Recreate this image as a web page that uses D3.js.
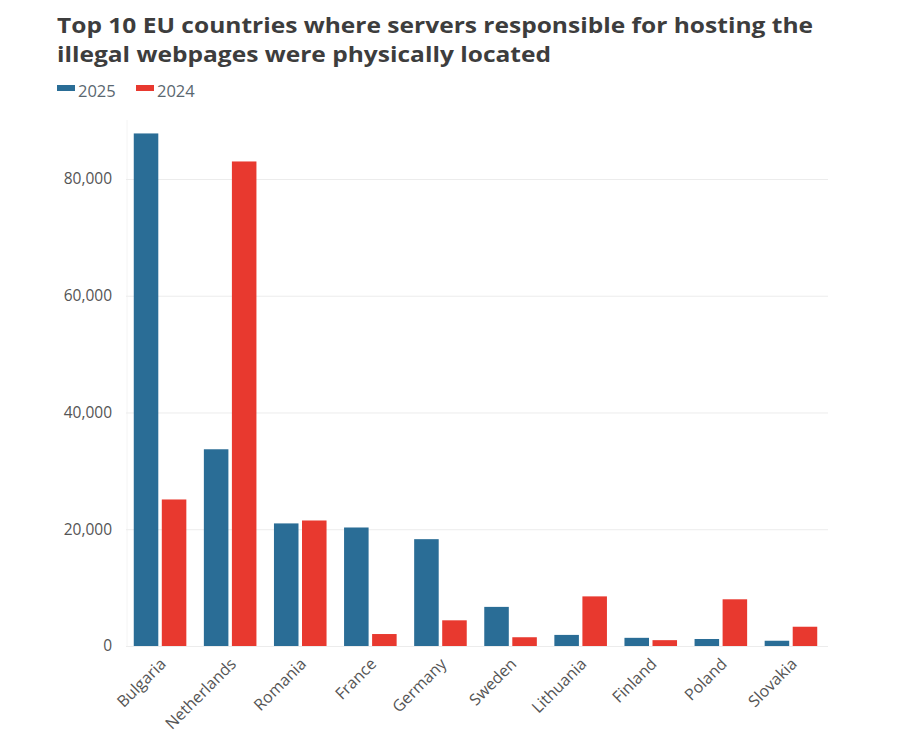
<!DOCTYPE html>
<html>
<head>
<meta charset="utf-8">
<script src="https://cdn.jsdelivr.net/npm/d3@7/dist/d3.min.js"></script>
<style>
  html, body { margin: 0; padding: 0; background: #fff; }
  svg { display: block; }
</style>
</head>
<body>
<svg id="chart" width="900" height="743"></svg>
<script>
const countries = ["Bulgaria","Netherlands","Romania","France","Germany","Sweden","Lithuania","Finland","Poland","Slovakia"];
const seriesNames = ["2025","2024"];
const values2025 = [87800, 33700, 21000, 20300, 18300, 6700, 1900, 1400, 1200, 900];
const values2024 = [25100, 83000, 21500, 2050, 4400, 1500, 8500, 1000, 8000, 3300];
const yTicks = [0, 20000, 40000, 60000, 80000];
const colors = ["#2a6d96", "#e8392f"];
const titleLines = ["Top 10 EU countries where servers responsible for hosting the", "illegal webpages were physically located"];

const svg = d3.select("#chart");
const font = "'Open Sans', 'Noto Sans', sans-serif";

const x0 = d3.scaleBand().domain(countries).range([125, 826]).paddingInner(0.25).paddingOuter(0.125);
const x1 = d3.scaleBand().domain(seriesNames).range([0, x0.bandwidth()]).paddingInner(0.125);
const y = d3.scaleLinear().domain([0, 90000]).range([646, 120.6]);
const color = d3.scaleOrdinal().domain(seriesNames).range(colors);

// title
const titleLen = [756, 494];
svg.append("g").selectAll("text").data(titleLines).join("text")
  .attr("x", 57).attr("y", (d, i) => 32.5 + i * 29.5)
  .attr("font-family", font).attr("font-weight", 700).attr("font-size", 21.5)
  .attr("textLength", (d, i) => titleLen[i]).attr("lengthAdjust", "spacingAndGlyphs")
  .attr("fill", "#3d3d3d").text(d => d);

// legend
const leg = svg.append("g").attr("font-family", font).attr("font-size", 16.5);
const legX = [57, 136];
seriesNames.forEach((s, i) => {
  leg.append("rect").attr("x", legX[i]).attr("y", 85).attr("width", 18).attr("height", 6).attr("fill", color(s));
  leg.append("text").attr("x", legX[i] + 21).attr("y", 96.5).attr("fill", "#5a6770").text(s);
});

// faint left edge
svg.append("line").attr("x1", 127).attr("x2", 127).attr("y1", 120).attr("y2", 646)
  .attr("stroke", "#f4f4f4");

// gridlines + y axis
const yAxis = d3.axisLeft(y).tickValues(yTicks).tickFormat(d3.format(",")).tickSize(-(828 - 126)).tickPadding(14);
const ga = svg.append("g").attr("transform", "translate(126,0)").call(yAxis);
ga.select(".domain").remove();
ga.selectAll(".tick line").attr("stroke", "#ececec");
ga.selectAll(".tick text").attr("font-family", font).attr("font-size", 15.5).attr("fill", "#555");

// bars
const groups = svg.append("g").selectAll("g").data(countries).join("g")
  .attr("transform", d => `translate(${x0(d)},0)`);
groups.selectAll("rect").data((d, i) => [
  {s: "2025", v: values2025[i]},
  {s: "2024", v: values2024[i]}
]).join("rect")
  .attr("x", d => x1(d.s)).attr("width", x1.bandwidth())
  .attr("y", d => y(d.v)).attr("height", d => y(0) - y(d.v))
  .attr("fill", d => color(d.s));

// x axis labels
const xAxis = d3.axisBottom(x0).tickSize(0).tickPadding(0);
const gx = svg.append("g").attr("transform", `translate(0,${y(0)})`).call(xAxis);
gx.select(".domain").remove();
gx.selectAll(".tick text")
  .attr("font-family", font).attr("font-size", 16).attr("fill", "#555")
  .attr("text-anchor", "end").attr("dy", 0)
  .attr("transform", "translate(7,19) rotate(-45)");
</script>
</body>
</html>
